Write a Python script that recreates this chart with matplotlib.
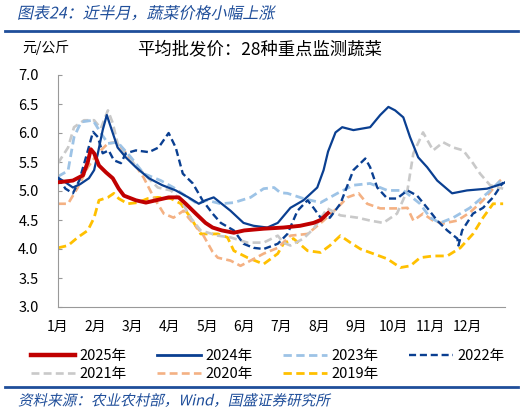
import matplotlib
matplotlib.use("Agg")
import matplotlib.pyplot as plt
from matplotlib.lines import Line2D
from matplotlib.patheffects import AbstractPathEffect
from matplotlib.transforms import Affine2D

plt.rcParams['font.family'] = ['Noto Sans CJK SC', 'DejaVu Sans']

# x positions are in months since 1 Jan (0 = 1月, 12 = year end)
months = ['1月', '2月', '3月', '4月', '5月', '6月', '7月', '8月', '9月', '10月', '11月', '12月']

x2025 = [0, 0.4, 0.67, 0.8, 0.88, 0.97, 1.1, 1.29, 1.47, 1.63, 1.77, 2.09, 2.36, 2.63, 2.97, 3.24,
         3.43, 3.7, 3.96, 4.15, 4.4, 4.72, 5.0, 5.52, 6.05, 6.5, 6.86, 7.05, 7.25]
y2025 = [5.15, 5.18, 5.27, 5.5, 5.72, 5.65, 5.44, 5.32, 5.22, 5.04, 4.92, 4.84, 4.80, 4.84, 4.89, 4.89,
         4.78, 4.61, 4.45, 4.37, 4.32, 4.28, 4.32, 4.35, 4.37, 4.40, 4.45, 4.5, 4.62]

x2024 = [0, 0.2, 0.4, 0.6, 0.83, 0.97, 1.07, 1.2, 1.31, 1.47, 1.6, 1.82, 2.09, 2.44, 2.8, 3.16, 3.5,
         3.78, 3.96, 4.18, 4.63, 4.98, 5.25, 5.62, 5.9, 6.24, 6.59, 6.96, 7.13, 7.25, 7.45, 7.63, 7.93,
         8.38, 8.65, 8.87, 9.05, 9.27, 9.45, 9.67, 9.91, 10.18, 10.58, 10.98, 11.52, 11.95, 12]
y2024 = [5.23, 5.15, 5.06, 5.12, 5.22, 5.36, 5.65, 6.05, 6.31, 6.0, 5.75, 5.58, 5.41, 5.22, 5.10, 5.01, 4.89,
         4.78, 4.84, 4.89, 4.66, 4.45, 4.40, 4.37, 4.45, 4.71, 4.84, 5.06, 5.36, 5.68, 6.01, 6.10, 6.05,
         6.10, 6.31, 6.45, 6.39, 6.27, 5.93, 5.58, 5.41, 5.18, 4.96, 5.01, 5.04, 5.13, 5.15]

x2023 = [0, 0.27, 0.43, 0.62, 0.94, 1.15, 1.34, 1.6, 1.96, 2.3, 2.76, 3.1, 3.48, 3.75, 4.0, 4.37, 4.72,
         5.17, 5.52, 5.8, 5.97, 6.16, 6.59, 7.05, 7.5, 7.93, 8.38, 8.84, 9.27, 9.72, 9.99, 10.26, 10.61,
         11.06, 11.52, 11.95]
y2023 = [5.25, 5.35, 5.93, 6.19, 6.22, 6.0, 5.82, 5.84, 5.58, 5.30, 5.18, 5.06, 4.89, 4.78, 4.84, 4.78, 4.80,
         4.89, 5.04, 5.06, 4.97, 4.96, 4.87, 4.80, 4.96, 5.10, 5.13, 5.01, 5.01, 4.78, 4.54, 4.45, 4.54,
         4.71, 4.96, 5.22]

x2022 = [0, 0.2, 0.4, 0.57, 0.75, 0.94, 1.07, 1.2, 1.36, 1.5, 1.69, 1.82, 2.09, 2.44, 2.7, 2.97, 3.16,
         3.35, 3.62, 3.88, 4.15, 4.37, 4.72, 4.98, 5.25, 5.52, 5.9, 6.16, 6.43, 6.7, 6.86, 7.05, 7.3,
         7.58, 7.93, 8.25, 8.38, 8.57, 8.84, 9.1, 9.38, 9.64, 9.91, 10.18, 10.45, 10.72, 10.75, 10.85,
         11.14, 11.41, 11.68, 11.95]
y2022 = [5.23, 5.04, 4.96, 5.18, 5.58, 6.02, 5.93, 5.65, 5.70, 5.53, 5.48, 5.65, 5.70, 5.67, 5.75, 6.0, 5.75,
         5.30, 5.13, 4.84, 4.61, 4.45, 4.32, 4.09, 4.02, 4.0, 4.09, 4.26, 4.66, 4.84, 4.71, 4.54, 4.54,
         4.78, 5.36, 5.56, 5.41, 5.06, 4.87, 4.87, 5.01, 4.92, 4.71, 4.49, 4.32, 4.18, 4.06, 4.32,
         4.61, 4.71, 4.89, 5.15]

x2021 = [0, 0.27, 0.43, 0.7, 0.97, 1.15, 1.34, 1.47, 1.6, 1.87, 2.14, 2.41, 2.68, 3.03, 3.3, 3.56, 3.83,
         4.29, 4.63, 5.09, 5.52, 5.9, 6.05, 6.24, 6.59, 6.86, 7.23, 7.58, 8.04, 8.38, 8.73, 9.1, 9.38,
         9.54, 9.8, 10.07, 10.34, 10.61, 10.88, 11.14, 11.33, 11.6, 11.95]
y2021 = [5.48, 5.75, 6.10, 6.22, 6.22, 6.08, 6.39, 6.17, 5.82, 5.58, 5.41, 5.23, 5.06, 5.01, 4.84, 4.54, 4.32,
         4.23, 4.20, 4.11, 4.11, 4.23, 4.11, 4.06, 4.18, 4.35, 4.70, 4.58, 4.54, 4.49, 4.45, 4.61, 5.01,
         5.65, 6.01, 5.70, 5.84, 5.75, 5.70, 5.48, 5.30, 5.10, 5.04]

x2020 = [0, 0.27, 0.53, 0.8, 1.07, 1.34, 1.55, 1.77, 2.04, 2.3, 2.57, 2.84, 3.1, 3.37, 3.5, 3.88, 4.15,
         4.29, 4.63, 4.9, 5.17, 5.52, 5.9, 6.24, 6.7, 7.13, 7.5, 7.77, 8.07, 8.3, 8.65, 9.1, 9.38, 9.54,
         9.8, 10.07, 10.34, 10.72, 11.06, 11.41, 11.87, 11.95]
y2020 = [4.78, 4.78, 5.06, 5.41, 5.65, 5.82, 5.84, 5.70, 5.48, 5.23, 4.89, 4.61, 4.54, 4.66, 4.54, 4.26, 3.95,
         3.85, 3.80, 3.71, 3.80, 3.92, 4.02, 4.23, 4.26, 4.49, 4.71, 4.89, 4.96, 4.78, 4.70, 4.70, 4.71, 4.49,
         4.61, 4.49, 4.44, 4.49, 4.63, 4.84, 5.18, 5.22]

x2019 = [0, 0.27, 0.53, 0.8, 0.97, 1.1, 1.34, 1.5, 1.63, 1.87, 2.14, 2.41, 2.68, 3.03, 3.3, 3.56, 3.83,
         4.29, 4.55, 4.72, 5.09, 5.52, 5.9, 6.05, 6.32, 6.7, 7.05, 7.3, 7.58, 7.85, 8.12, 8.46, 8.84, 9.19,
         9.46, 9.72, 10.07, 10.45, 10.8, 11.14, 11.41, 11.68, 11.95]
y2019 = [4.02, 4.06, 4.20, 4.32, 4.54, 4.84, 4.89, 4.96, 4.87, 4.78, 4.80, 4.87, 4.89, 4.87, 4.78, 4.54, 4.26,
         4.26, 4.20, 3.97, 3.85, 3.74, 3.92, 4.09, 4.18, 3.97, 3.94, 4.06, 4.23, 4.11, 4.00, 3.92, 3.83, 3.68,
         3.71, 3.85, 3.88, 3.88, 4.02, 4.26, 4.54, 4.78, 4.78]

blue = '#1F4E9A'
dash = (0, (3, 1.6))


# slant glyphs a little, the CJK font has no italic face
class Oblique(AbstractPathEffect):
    def __init__(self, deg=12):
        super().__init__()
        self._skew = Affine2D().skew_deg(deg, 0)

    def draw_path(self, renderer, gc, tpath, affine, rgbFace=None):
        renderer.draw_path(gc, tpath, self._skew + affine, rgbFace)


# (label, x, y, colour, width, style, z-order)
series = [
    ('2019年', x2019, y2019, '#FFC000', 2.0, dash, 2),
    ('2020年', x2020, y2020, '#F4B183', 1.9, dash, 2),
    ('2021年', x2021, y2021, '#C9C9C9', 1.9, dash, 2),
    ('2022年', x2022, y2022, '#0A3F91', 1.7, dash, 3),
    ('2023年', x2023, y2023, '#9DC3E6', 2.0, dash, 2),
    ('2024年', x2024, y2024, '#0A3F91', 1.6, '-', 4),
    ('2025年', x2025, y2025, '#C00000', 2.8, '-', 5),
]

fig = plt.figure(figsize=(5.26, 4.12), dpi=100)
ax = fig.add_axes([58 / 526, 1 - 307 / 412, 447 / 526, 232 / 412])

handles = {}
for label, xs, ys, color, lw, ls, z in series:
    ax.plot(xs, ys, color=color, lw=lw, linestyle=ls, zorder=z)
    handles[label] = Line2D([], [], color=color, lw=lw + 0.4 if ls == '-' else lw, linestyle=ls)

ax.set_xlim(0, 12)
ax.set_ylim(3.0, 7.0)
ax.set_xticks(range(12))
ax.set_xticklabels(months, fontsize=10)
ax.set_yticks([3.0, 3.5, 4.0, 4.5, 5.0, 5.5, 6.0, 6.5, 7.0])
ax.set_yticklabels(['%.1f' % v for v in ax.get_yticks()], fontsize=10.5)
ax.tick_params(axis='x', length=0, pad=9)
ax.tick_params(axis='y', direction='in', length=3, color='#999999', pad=14)
for s in ['top', 'right']:
    ax.spines[s].set_visible(False)
for s in ['left', 'bottom']:
    ax.spines[s].set_color('#999999')

order = ['2025年', '2021年', '2024年', '2020年', '2023年', '2019年', '2022年']
fig.legend([handles[k] for k in order], order, ncol=4, loc='center',
           bbox_to_anchor=(268 / 526, 1 - 365 / 412), frameon=False, fontsize=10.5,
           handlelength=3.0, handletextpad=0.3, columnspacing=2.1, labelspacing=0.3)

fig.text(17 / 526, 1 - 14 / 412, '图表24：近半月，蔬菜价格小幅上涨', color=blue,
         fontsize=11.5, va='center', ha='left', path_effects=[Oblique()])
fig.add_artist(Line2D([5 / 526, 518 / 526], [1 - 31 / 412, 1 - 31 / 412], color=blue, lw=2))
fig.text(22 / 526, 1 - 48 / 412, '元/公斤', fontsize=10, va='center', ha='left')
fig.text(260 / 526, 1 - 49 / 412, '平均批发价：28种重点监测蔬菜', fontsize=12.5,
         va='center', ha='center')
fig.add_artist(Line2D([5 / 526, 518 / 526], [1 - 387 / 412, 1 - 387 / 412], color=blue, lw=2))
fig.text(18 / 526, 1 - 401 / 412, '资料来源：农业农村部，Wind，国盛证券研究所', color=blue,
         fontsize=10.5, va='center', ha='left', path_effects=[Oblique()])

fig.savefig('out.png', dpi=100)
